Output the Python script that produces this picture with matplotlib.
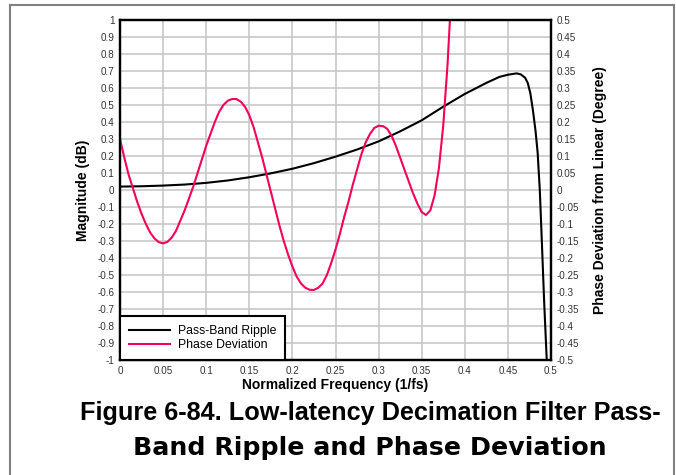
import matplotlib.pyplot as plt
from matplotlib.lines import Line2D

plt.rcParams['font.family'] = ['Liberation Sans', 'DejaVu Sans']

# Pass-band ripple (dB)
freq_ripple = [0.0, 0.025, 0.05, 0.075, 0.1, 0.125, 0.15, 0.175, 0.2, 0.225,
               0.25, 0.275, 0.3, 0.325, 0.35, 0.375, 0.4, 0.425, 0.44, 0.45,
               0.46, 0.465, 0.47, 0.473, 0.476, 0.479, 0.482, 0.4845, 0.487,
               0.4895, 0.492, 0.494, 0.4955]
ripple_db = [0.020, 0.022, 0.026, 0.032, 0.042, 0.056, 0.075, 0.098, 0.125, 0.158,
             0.196, 0.238, 0.286, 0.345, 0.41, 0.49, 0.565, 0.63, 0.665, 0.678,
             0.686, 0.68, 0.66, 0.63, 0.57, 0.47, 0.35, 0.22, 0.0,
             -0.32, -0.65, -0.88, -1.05]

# Phase deviation from linear (degree)
freq_phase = [0.0, 0.005, 0.01, 0.015, 0.02, 0.025, 0.03, 0.035, 0.04, 0.045,
              0.05, 0.055, 0.06, 0.065, 0.07, 0.075, 0.08, 0.085, 0.09, 0.095,
              0.1, 0.105, 0.11, 0.115, 0.12, 0.125, 0.13, 0.135, 0.14, 0.145,
              0.15, 0.155, 0.16, 0.165, 0.17, 0.175, 0.18, 0.185, 0.19, 0.195,
              0.2, 0.205, 0.21, 0.215, 0.22, 0.225, 0.23, 0.235, 0.24, 0.245,
              0.25, 0.255, 0.26, 0.265, 0.27, 0.275, 0.28, 0.285, 0.29, 0.295,
              0.3, 0.305, 0.31, 0.315, 0.32, 0.325, 0.33, 0.335, 0.34, 0.345,
              0.35, 0.355, 0.36, 0.365, 0.37, 0.375, 0.38, 0.384]
phase_deg = [0.150, 0.095, 0.045, 0.005, -0.035, -0.070, -0.100, -0.125, -0.1425, -0.1535,
             -0.157, -0.1525, -0.140, -0.120, -0.090, -0.060, -0.025, 0.010, 0.050, 0.090,
             0.130, 0.165, 0.200, 0.230, 0.250, 0.2625, 0.2675, 0.2675, 0.260, 0.245,
             0.220, 0.185, 0.140, 0.095, 0.045, -0.005, -0.055, -0.105, -0.150, -0.190,
             -0.225, -0.255, -0.275, -0.2875, -0.2935, -0.294, -0.2875, -0.275, -0.250, -0.215,
             -0.175, -0.130, -0.080, -0.035, 0.015, 0.060, 0.105, 0.140, 0.165, 0.1825,
             0.189, 0.188, 0.180, 0.160, 0.130, 0.095, 0.060, 0.025, -0.010, -0.040,
             -0.065, -0.0735, -0.060, -0.015, 0.065, 0.19, 0.37, 0.56]

x_ticks = [0, 0.05, 0.1, 0.15, 0.2, 0.25, 0.3, 0.35, 0.4, 0.45, 0.5]
left_ticks = [round(-1 + 0.1 * i, 1) for i in range(21)]
right_ticks = [round(-0.5 + 0.05 * i, 2) for i in range(21)]

fig = plt.figure(figsize=(6.76, 4.75), dpi=100)
ax = fig.add_axes([120 / 676, 115 / 475, 431 / 676, 340 / 475])
ax2 = ax.twinx()

red = '#f5005a'
l1, = ax.plot(freq_ripple, ripple_db, color='black', lw=1.5, label='Pass-Band Ripple')
l2, = ax2.plot(freq_phase, phase_deg, color=red, lw=1.5, label='Phase Deviation')

ax.set_xlim(0, 0.5)
ax.set_ylim(-1, 1)
ax2.set_ylim(-0.5, 0.5)
ax.set_xticks(x_ticks)
ax.set_xticklabels([f'{t:g}' for t in x_ticks])
ax.set_yticks(left_ticks)
ax.set_yticklabels([f'{t:g}' for t in left_ticks])
ax2.set_yticks(right_ticks)
ax2.set_yticklabels([f'{t:g}' for t in right_ticks])

ax.grid(True, color='#c8c8c8', lw=1.2)
ax.set_axisbelow(True)
for a in (ax, ax2):
    a.tick_params(length=0, labelsize=7.1, labelcolor='#333333', pad=4)
    for s in a.spines.values():
        s.set_linewidth(1.6)
        s.set_color('black')

ax.set_xlabel('Normalized Frequency (1/fs)', fontsize=10, fontweight='bold', labelpad=2)
ax.set_ylabel('Magnitude (dB)', fontsize=10, fontweight='bold', labelpad=5)
ax2.set_ylabel('Phase Deviation from Linear (Degree)', fontsize=10, fontweight='bold', labelpad=10)

leg = ax2.legend(handles=[l1, l2], loc='lower left', fontsize=8.8, fancybox=False,
                 framealpha=1, borderaxespad=0, handlelength=3.4, borderpad=0.7,
                 labelspacing=0.2, handletextpad=0.65)
leg.get_frame().set_edgecolor('black')
leg.get_frame().set_linewidth(1.5)

# caption, two lines (second line is set wider in the original)
fig.text(370 / 676, 1 - 413 / 475, 'Figure 6-84. Low-latency Decimation Filter Pass-',
         ha='center', va='center', fontsize=18.2, fontweight='bold')
fig.text(370 / 676, 1 - 448 / 475, 'Band Ripple and Phase Deviation',
         ha='center', va='center', fontsize=18.2, fontweight='bold',
         family=['DejaVu Sans'])

# page frame
fig.add_artist(Line2D([10 / 676, 10 / 676], [0, 1 - 5 / 475], color='#808080', lw=1.5))
fig.add_artist(Line2D([674 / 676, 674 / 676], [0, 1 - 5 / 475], color='#808080', lw=1.5))
fig.add_artist(Line2D([10 / 676, 674 / 676], [1 - 5 / 475, 1 - 5 / 475], color='#808080', lw=1.5))

fig.savefig('out.png', dpi=100)
